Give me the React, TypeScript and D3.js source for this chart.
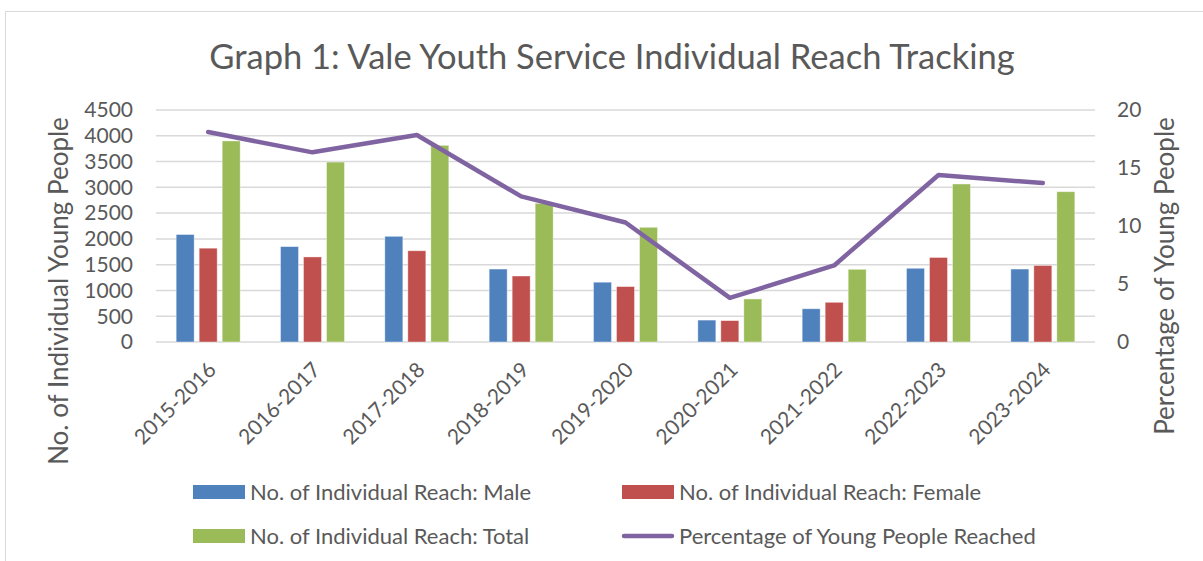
import * as d3 from 'd3';
import React, { useEffect, useRef } from 'react';

const years = ['2015-2016', '2016-2017', '2017-2018', '2018-2019', '2019-2020', '2020-2021', '2021-2022', '2022-2023', '2023-2024'];
const male = [2085, 1850, 2050, 1415, 1160, 425, 645, 1430, 1415];
const female = [1820, 1650, 1770, 1280, 1075, 415, 770, 1640, 1485];
const total = [3900, 3490, 3815, 2690, 2225, 835, 1410, 3065, 2915];
const percent = [18.1, 16.35, 17.85, 12.55, 10.3, 3.8, 6.6, 14.4, 13.7];
const leftTicks = [0, 500, 1000, 1500, 2000, 2500, 3000, 3500, 4000, 4500];
const rightTicks = [0, 5, 10, 15, 20];

const seriesNames = ['No. of Individual Reach: Male', 'No. of Individual Reach: Female', 'No. of Individual Reach: Total'];
const lineName = 'Percentage of Young People Reached';
const colors = ['#4F81BD', '#C0504D', '#9BBB59'];
const lineColor = '#8064A2';
const textColor = '#595959';
const font = "Lato, 'Liberation Sans', sans-serif";

function App() {
    const ref = useRef(null);

    useEffect(() => {
        const svg = d3.select(ref.current);
        svg.selectAll('*').remove();

        const left = 156, right = 1095, top = 110, bottom = 342;

        const x = d3.scaleBand().domain(years).range([left, right]);
        const sub = d3.scaleBand().domain(['m', 'f', 't']).range([-32, 32]).paddingInner(5 / 23);
        const y = d3.scaleLinear().domain([0, 4500]).range([bottom, top]);
        const y2 = d3.scaleLinear().domain([0, 20]).range([bottom, top]);

        // chart frame
        svg.append('rect')
            .attr('x', 5.5).attr('y', 11.5)
            .attr('width', 1220).attr('height', 580)
            .attr('fill', 'white').attr('stroke', '#d9d9d9').attr('stroke-width', 1);

        svg.append('text')
            .attr('x', 612).attr('y', 69)
            .attr('text-anchor', 'middle')
            .attr('font-size', 34.5)
            .attr('fill', textColor)
            .text('Graph 1: Vale Youth Service Individual Reach Tracking');

        // gridlines
        svg.append('g').selectAll('line')
            .data(leftTicks)
            .enter()
            .append('line')
            .attr('x1', left).attr('x2', right)
            .attr('y1', d => y(d)).attr('y2', d => y(d))
            .attr('stroke', '#d9d9d9').attr('stroke-width', 1.5);

        svg.append('g').selectAll('text')
            .data(leftTicks)
            .enter()
            .append('text')
            .attr('x', 133).attr('y', d => y(d))
            .attr('dy', '0.35em')
            .attr('text-anchor', 'end')
            .attr('font-size', 21)
            .attr('fill', textColor)
            .text(d => d);

        svg.append('g').selectAll('text')
            .data(rightTicks)
            .enter()
            .append('text')
            .attr('x', 1117).attr('y', d => y2(d))
            .attr('dy', '0.35em')
            .attr('font-size', 21)
            .attr('fill', textColor)
            .text(d => d);

        svg.append('text')
            .attr('transform', 'translate(68,291) rotate(-90)')
            .attr('text-anchor', 'middle')
            .attr('font-size', 26)
            .attr('fill', textColor)
            .text('No. of Individual Young People');

        svg.append('text')
            .attr('transform', 'translate(1174,276) rotate(-90)')
            .attr('text-anchor', 'middle')
            .attr('font-size', 26)
            .attr('fill', textColor)
            .text('Percentage of Young People');

        // bars
        const series = [male, female, total];
        const keys = ['m', 'f', 't'];
        series.forEach((vals, si) => {
            svg.append('g').selectAll('rect')
                .data(vals)
                .enter()
                .append('rect')
                .attr('x', (d, i) => x(years[i]) + x.bandwidth() / 2 + sub(keys[si]))
                .attr('y', d => y(d))
                .attr('width', sub.bandwidth())
                .attr('height', d => bottom - y(d))
                .attr('fill', colors[si])
                .attr('stroke', 'rgba(255,255,255,0.5)')
                .attr('stroke-width', 0.8);
        });

        // line
        const line = d3.line()
            .x((d, i) => x(years[i]) + x.bandwidth() / 2)
            .y(d => y2(d));
        svg.append('path')
            .datum(percent)
            .attr('d', line)
            .attr('fill', 'none')
            .attr('stroke', lineColor)
            .attr('stroke-width', 4.5)
            .attr('stroke-linecap', 'round')
            .attr('stroke-linejoin', 'round');

        // x labels
        svg.append('g').selectAll('text')
            .data(years)
            .enter()
            .append('text')
            .attr('transform', d => `translate(${x(d) + x.bandwidth() / 2 + 4},366) rotate(-45)`)
            .attr('text-anchor', 'end')
            .attr('dy', '0.35em')
            .attr('font-size', 21)
            .attr('fill', textColor)
            .text(d => d);

        // legend
        const legend = [
            { name: seriesNames[0], color: colors[0], x: 193, y: 492, kind: 'rect' },
            { name: seriesNames[1], color: colors[1], x: 622, y: 492, kind: 'rect' },
            { name: seriesNames[2], color: colors[2], x: 193, y: 536, kind: 'rect' },
            { name: lineName, color: lineColor, x: 622, y: 536, kind: 'line' },
        ];
        const lg = svg.append('g').selectAll('g')
            .data(legend)
            .enter()
            .append('g');
        lg.filter(d => d.kind === 'rect')
            .append('rect')
            .attr('x', d => d.x).attr('y', d => d.y - 7)
            .attr('width', 52).attr('height', 14)
            .attr('fill', d => d.color);
        lg.filter(d => d.kind === 'line')
            .append('line')
            .attr('x1', d => d.x + 2).attr('x2', d => d.x + 50)
            .attr('y1', d => d.y).attr('y2', d => d.y)
            .attr('stroke', d => d.color)
            .attr('stroke-width', 4.5)
            .attr('stroke-linecap', 'round');
        lg.append('text')
            .attr('x', d => d.x + 57).attr('y', d => d.y)
            .attr('dy', '0.35em')
            .attr('font-size', 22)
            .attr('fill', textColor)
            .text(d => d.name);
    }, []);

    return (
        <svg ref={ref} width={1203} height={561}
            style={{ position: 'absolute', left: 0, top: 0, fontFamily: font, background: 'white' }}></svg>
    );
}

export default App;
